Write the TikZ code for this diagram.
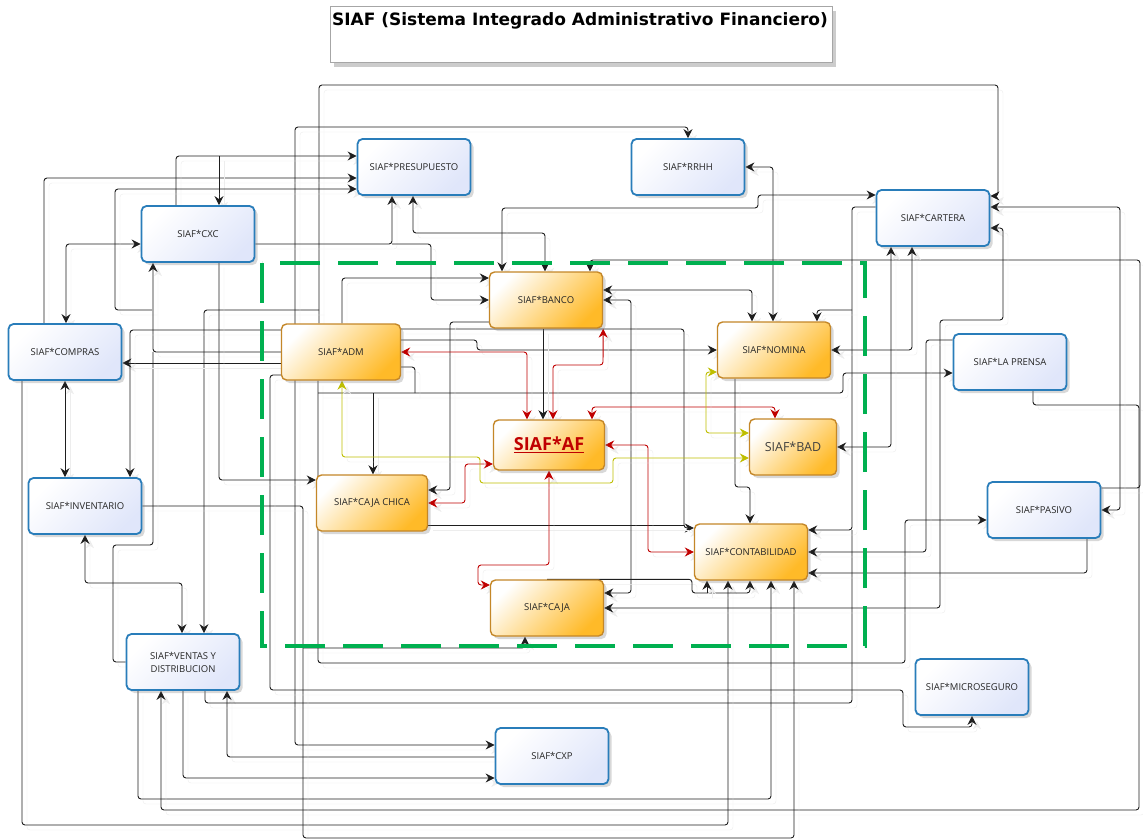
\documentclass[tikz,border=0pt]{standalone}
\usepackage{fontspec}
\setmainfont{Open Sans}
\newfontfamily\titfont{DejaVu Sans}
\usetikzlibrary{arrows.meta,shadows,backgrounds}

\definecolor{azulBorde}{RGB}{41,125,186}
\definecolor{azulFondo}{RGB}{224,230,250}
\definecolor{naranjaBorde}{RGB}{196,135,40}
\definecolor{naranjaFondo}{RGB}{255,186,40}
\definecolor{rojoSiaf}{RGB}{192,0,0}
\definecolor{amarilloSiaf}{RGB}{190,190,0}
\definecolor{verdeZona}{RGB}{0,176,80}
\definecolor{lineaGris}{RGB}{30,30,30}

\tikzset{
  modulo/.style={rectangle, rounded corners=5pt, minimum width=113pt, minimum height=56pt,
    inner sep=0pt, align=center, font=\fontsize{9.5}{13}\selectfont, text=black!85,
    drop shadow={opacity=0.3, shadow xshift=3pt, shadow yshift=-3pt}},
  externo/.style={modulo, draw=azulBorde, line width=1.8pt, top color=white, bottom color=azulFondo, shading angle=45},
  interno/.style={modulo, draw=naranjaBorde, line width=1.4pt, top color=white, bottom color=naranjaFondo, shading angle=45},
  enlace/.style={draw=lineaGris, line width=0.9pt, rounded corners=3pt,
    preaction={draw=black!7, transform canvas={shift={(5pt,-5pt)}}}},
  enlaceRojo/.style={enlace, draw=rojoSiaf},
  enlaceAmarillo/.style={enlace, draw=amarilloSiaf},
  zona/.style={draw=verdeZona, line width=4pt, dash pattern=on 40pt off 18pt},
  >={Stealth[length=9pt,width=9pt,inset=3pt]}
}

\begin{document}
\begin{tikzpicture}[x=1pt,y=-1pt]
\useasboundingbox (0,0) rectangle (1143,840);

% titulo
\node[draw=black!35, fill=white, minimum width=502pt, minimum height=56pt, inner sep=0pt,
  drop shadow={opacity=0.4, shadow xshift=4pt, shadow yshift=-5pt}] (marco) at (581,34) {};
\node[font=\titfont\bfseries\fontsize{17}{19}\selectfont] (titulo) at (580,21) {SIAF (Sistema Integrado Administrativo Financiero)};

% modulos externos
\node[externo] (pres) at (414,167) {SIAF*PRESUPUESTO};
\node[externo] (rrhh) at (688,167) {SIAF*RRHH};
\node[externo] (cxc) at (198,234) {SIAF*CXC};
\node[externo] (cart) at (933,218) {SIAF*CARTERA};
\node[externo] (comp) at (65,352) {SIAF*COMPRAS};
\node[externo] (pren) at (1010,362) {SIAF*LA PRENSA};
\node[externo] (inv) at (85,506) {SIAF*INVENTARIO};
\node[externo] (pas) at (1044,510) {SIAF*PASIVO};
\node[externo] (vent) at (183,662) {SIAF*VENTAS Y\\DISTRIBUCION};
\node[externo] (micro) at (972,687) {SIAF*MICROSEGURO};
\node[externo] (cxp) at (552,756) {SIAF*CXP};

% modulos internos
\node[interno] (banco) at (546,300) {SIAF*BANCO};
\node[interno, minimum width=119pt] (adm) at (341,352) {SIAF*ADM};
\node[interno] (nom) at (774,350) {SIAF*NOMINA};
\node[interno, minimum width=111pt, minimum height=50pt, font=\bfseries\fontsize{18}{20}\selectfont, text=rojoSiaf] (af) at (549,445) {\underline{SIAF*AF}};
\node[interno, minimum width=87pt, font=\fontsize{12.5}{14}\selectfont, text=black!75] (bad) at (793,447) {SIAF*BAD};
\node[interno, minimum width=111pt] (cch) at (372,503) {SIAF*CAJA CHICA};
\node[interno] (cont) at (751,552) {SIAF*CONTABILIDAD};
\node[interno] (caja) at (547,608) {SIAF*CAJA};

\begin{scope}[on background layer]
\fill[white] (0,0) rectangle (1143,840);

% enlaces negros
\draw[enlace,->] (adm.north -| 319,0) -- (319,85) -| (998,196) -- (cart.east |- 0,196);
\draw[enlace,->] (319,310) -| (vent.north -| 204,0);
\draw[enlace,<->] (cxp.west |- 0,745) -| (295,127) -| (rrhh.north);
\draw[enlace,->] (cxp.west |- 0,757) -| (vent.south -| 227,0);
\draw[enlace,->] (vent.south -| 183,0) |- (cxp.west |- 0,778);
\draw[enlace,->] (vent.south -| 138,0) |- (771,799) -- (cont.south -| 771,0);
\draw[enlace,->] (pren.south -| 1033,0) |- (1139,405) |- (161,810) -- (vent.south -| 161,0);
\draw[enlace] (vent.south -| 205,0) |- (852,703) -- (852,530);
\draw[enlace,->] (cart.west |- 0,207) -| (852,530) -- (cont.east |- 0,530);
\draw[enlace,->] (852,310) -| (nom.north -| 817,0);
\draw[enlace,->] (comp.south -| 22,0) |- (728,825) -- (cont.south -| 728,0);
\draw[enlace,->] (inv.east) -| (303,838) -| (cont.south -| 794,0);
\draw[enlace,->] (303,648) -| (caja.south -| 525,0);
\draw[enlace,->] (adm.west |- 0,375) -| (270,690) -| (903,727) -| (micro.south);
\draw[enlace,->] (adm.south -| 318,0) |- (905,663) |- (pas.west |- 0,520);
\draw[enlace,->] (318,393) -| (843,373) -- (pren.west |- 0,373);
\draw[enlace,->] (373,393) -- (cch.north -| 373,0);
\draw[enlace] (adm.east |- 0,367) -| (415,393);
\draw[enlace,->] (adm.east |- 0,340) -| (477,350) -- (nom.west);
\draw[enlace,->] (adm.east |- 0,329) -| (684,528) -- (cont.west |- 0,528);
\draw[enlace] (cch.east |- 0,525) -- (684,525);
\draw[enlace,->] (adm.north -| 342,0) |- (banco.west |- 0,278);
\draw[enlace,->] (cxc.east |- 0,244) -| (pres.south -| 392,0);
\draw[enlace,->] (392,244) -| (431,300) -- (banco.west);
\draw[enlace,<->] (pres.south -| 413,0) |- (545,233) -- (banco.north -| 545,0);
\draw[enlace,<->] (banco.north -| 502,0) |- (758,208) |- (cart.west |- 0,195);
\draw[enlace,->] (pas.east |- 0,488) -| (1140,260) -| (banco.north -| 590,0);
\draw[enlace,<->] (banco.east |- 0,290) -| (nom.north -| 752,0);
\draw[enlace,<->] (banco.east) -| (631,593) -- (caja.east |- 0,593);
\draw[enlace,->] (banco.west |- 0,322) -| (450,490) -- (cch.east |- 0,490);
\draw[enlace,->] (banco.south -| 543,0) -- (af.north -| 543,0);
\draw[enlace,<->] (rrhh.east) -| (nom.north -| 773,0);
\draw[enlace,<->] (nom.east) -| (cart.south -| 912,0);
\draw[enlace,<->] (bad.east) -| (cart.south -| 891,0);
\draw[enlace,->] (nom.south -| 735,0) |- (750,487) -- (cont.north -| 750,0);
\draw[enlace,<->] (cart.east |- 0,228) -| (1003,320) -| (940,608) -- (caja.east |- 0,608);
\draw[enlace,<->] (cart.east |- 0,207) -| (1120,510) -- (pas.east);
\draw[enlace,->] (pren.west |- 0,340) -| (926,552) -- (cont.east);
\draw[enlace,->] (pas.south -| 1087,0) |- (cont.east |- 0,573);
\draw[enlace,->] (caja.north) -| (692,593) -| (cont.south -| 750,0);
\draw[enlace,->] (707,593) -- (cont.south -| 707,0);
\draw[enlace,->] (comp.north -| 44,0) |- (pres.west |- 0,178);
\draw[enlace,<->] (comp.north -| 66,0) |- (cxc.west |- 0,244);
\draw[enlace,->] (cxc.north -| 176,0) |- (pres.west |- 0,156);
\draw[enlace,->] (219,156) -- (cxc.north -| 219,0);
\draw[enlace,->] (152,310) -| (115,189) -- (pres.west |- 0,189);
\draw[enlace,->] (adm.west) -| (cxc.south -| 153,0);
\draw[enlace] (vent.west) -| (113,545) -| (153,352);
\draw[enlace,->] (adm.west |- 0,363) -- (comp.east |- 0,363);
\draw[enlace,->] (adm.west |- 0,330) -| (inv.north -| 130,0);
\draw[enlace,->] (cxc.south -| 219,0) |- (cch.west |- 0,480);
\draw[enlace,<->] (comp.south) -- (comp.south |- inv.north);
\draw[enlace,<->] (inv.south) |- (182,583) -- (vent.north -| 182,0);

% enlaces de SIAF*AF
\draw[enlaceRojo,<->] (adm.east) -| (af.north -| 527,0);
\draw[enlaceRojo,<->] (af.north -| 553,0) |- (603,365) -- (banco.south east);
\draw[enlaceRojo,<->] (af.north -| 592,0) |- (775,407) -- (bad.north -| 775,0);
\draw[enlaceRojo,<->] (af.east) -| (648,552) -- (cont.west);
\draw[enlaceRojo,<->] (af.west |- 0,464) -| (465,503) -- (cch.east);
\draw[enlaceRojo,<->] (af.south) |- (478,565) |- (caja.west |- 0,585);

% enlaces de SIAF*BAD
\draw[enlaceAmarillo,<->] (adm.south -| 342,0) |- (480,457) |- (613,483) |- (bad.west |- 0,458);
\draw[enlaceAmarillo,<->] (nom.west |- 0,372) -| (706,433) -- (bad.west |- 0,433);

% zona interna
\draw[zona] (262,263) rectangle (865,646);
\end{scope}
\end{tikzpicture}
\end{document}
